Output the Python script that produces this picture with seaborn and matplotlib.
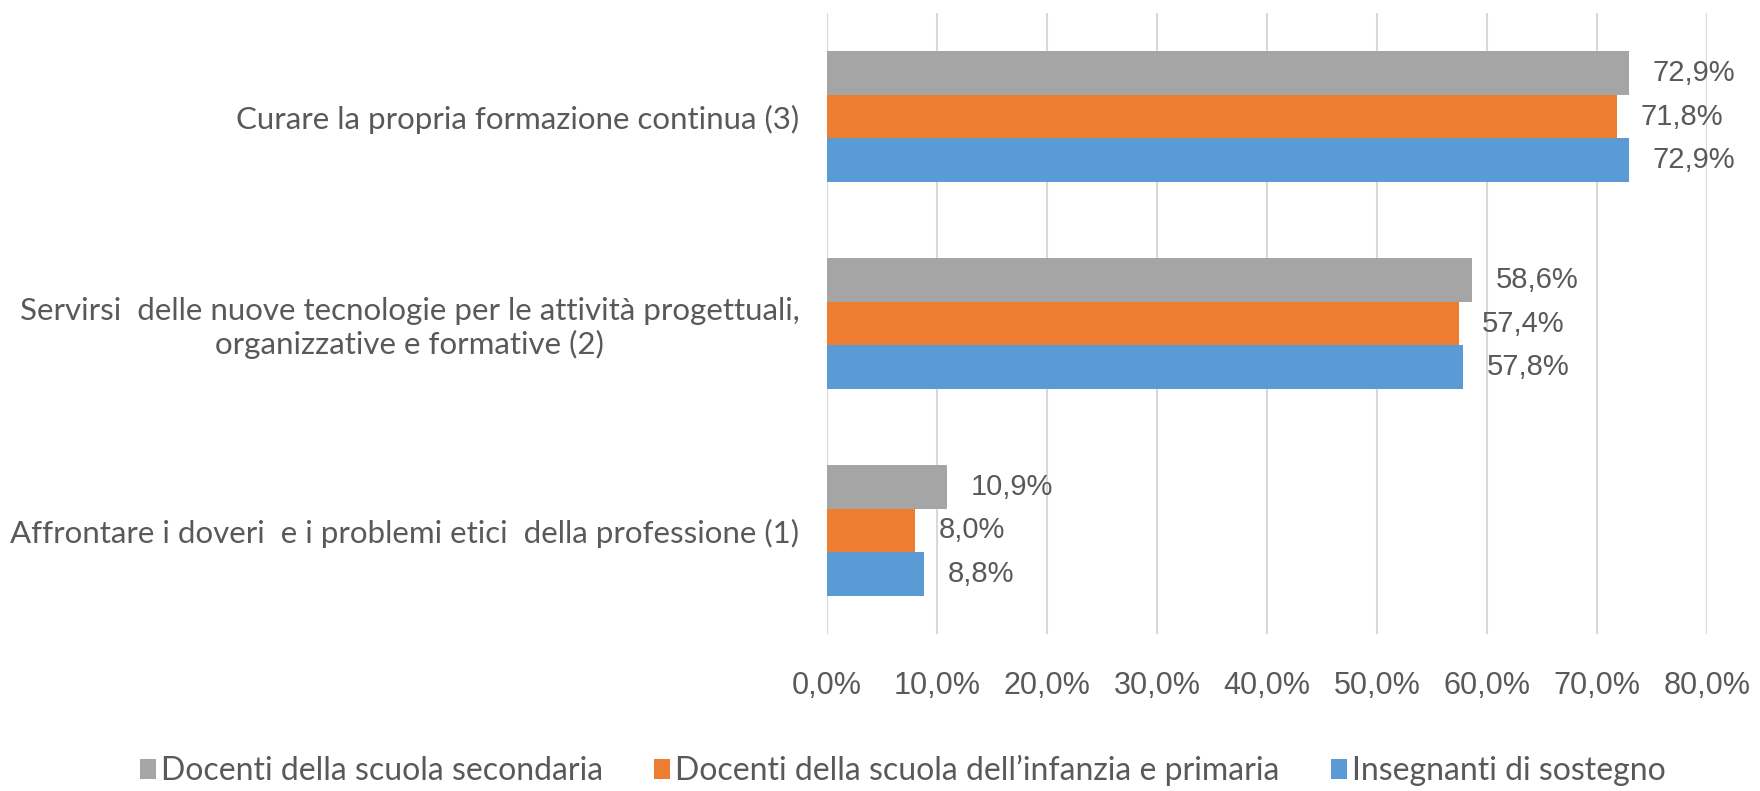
import pandas as pd
import numpy as np
import matplotlib.pyplot as plt
import seaborn as sns

# Dati
categorie = [
    "Curare la propria formazione continua (3)",
    "Servirsi  delle nuove tecnologie per le attività progettuali,\norganizzative e formative (2)",
    "Affrontare i doveri  e i problemi etici  della professione (1)",
]
gruppi = [
    "Docenti della scuola secondaria",
    "Docenti della scuola dell’infanzia e primaria",
    "Insegnanti di sostegno",
]
secondaria = [72.9, 58.6, 10.9]
infanzia = [71.8, 57.4, 8.0]
sostegno = [72.9, 57.8, 8.8]
colori = ["#A5A5A5", "#ED7D31", "#5B9BD5"]

df = pd.DataFrame({
    "categoria": categorie * 3,
    "gruppo": [gruppi[0]] * 3 + [gruppi[1]] * 3 + [gruppi[2]] * 3,
    "valore": secondaria + infanzia + sostegno,
})

sns.set_theme(style="whitegrid")
plt.rcParams['font.family'] = ['Lato', 'DejaVu Sans']
testo = "#595959"

fig = plt.figure(figsize=(17.6, 7.91), dpi=100)
ax = fig.add_axes([0.470, 0.1985, 0.500, 0.785])

sns.barplot(data=df, y="categoria", x="valore", hue="gruppo",
            order=categorie, hue_order=gruppi, palette=colori,
            width=0.63, linewidth=0, saturation=1, ax=ax, legend=True)

fmt = lambda v: f"{v:.1f}".replace('.', ',') + '%'
for cont in ax.containers:
    ax.bar_label(cont, labels=[fmt(v) for v in cont.datavalues], padding=17,
                 fontsize=21, color=testo, family='Liberation Sans')

ax.set_xlim(0, 80)
ax.set_xticks(np.arange(0, 81, 10))
ax.set_xticklabels([fmt(v) for v in np.arange(0, 81, 10)],
                   family='Liberation Sans', fontsize=22, color=testo)
ax.tick_params(axis='x', pad=27, length=0)
ax.tick_params(axis='y', pad=20, length=0, labelsize=22.5, labelcolor=testo)
for lbl in ax.get_yticklabels():
    lbl.set_multialignment('center')
ax.set_xlabel('')
ax.set_ylabel('')
ax.grid(axis='y', visible=False)
ax.grid(axis='x', color='#D9D9D9', linewidth=1.5)
for s in ax.spines.values():
    s.set_visible(False)

h, l = ax.get_legend_handles_labels()
ax.legend_.remove()
fig.legend(h, l, loc='lower center', bbox_to_anchor=(0.513, -0.03), ncol=3,
           frameon=False, fontsize=23, labelcolor=testo, handlelength=0.5,
           handleheight=0.6, handletextpad=0.15, columnspacing=1.6)

plt.savefig('out.png', dpi=100)
